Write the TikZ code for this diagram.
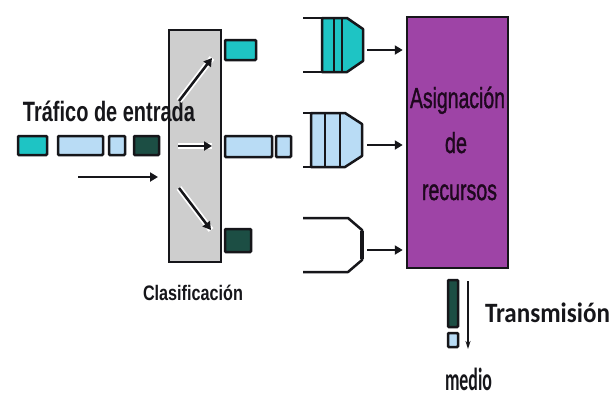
\documentclass[tikz,border=0pt]{standalone}
\usepackage{fontspec}
\setmainfont{Liberation Sans}
\newfontfamily\carl{Carlito}
\newfontfamily\ptfont[FakeBold=1.5]{Liberation Sans}
\usetikzlibrary{arrows.meta}
\definecolor{tealc}{RGB}{30,196,196}
\definecolor{lblue}{RGB}{185,220,245}
\definecolor{dteal}{RGB}{28,78,68}
\definecolor{grayc}{RGB}{206,206,206}
\definecolor{purp}{RGB}{158,68,166}
\definecolor{edge}{RGB}{22,22,26}
\definecolor{ptxt}{RGB}{30,8,30}
\begin{document}
\begin{tikzpicture}[x=1pt,y=-1pt,
  pkt/.style={draw=edge, line width=2.5pt, rounded corners=1pt, inner sep=0pt, outer sep=0pt},
  arr/.style={-{Triangle[length=8pt,width=9pt]}, line width=2.5pt, draw=edge},
  halo/.style={line width=6pt, draw=white},
  qline/.style={draw=edge, line width=2.5pt},
  lbl/.style={inner sep=0pt, outer sep=0pt},
]
\useasboundingbox (0,0) rectangle (614,410);
\fill[white] (0,0) rectangle (614,410);

% input packets
\node[pkt, fill=tealc, minimum width=29pt, minimum height=19pt] (p1) at (32.5,145.5) {};
\node[pkt, fill=lblue, minimum width=45pt, minimum height=19pt] (p2) at (80.5,145.5) {};
\node[pkt, fill=lblue, minimum width=16pt, minimum height=19pt] (p3) at (117,145.5) {};
\node[pkt, fill=dteal, minimum width=25pt, minimum height=19pt] (p4) at (146.5,145.5) {};

% input arrow
\coordinate (in1) at (78,177);
\coordinate (in2) at (158,177);
\draw[arr] (in1) -- (in2);

% classifier
\node[draw=edge, line width=2.5pt, fill=grayc, minimum width=52pt, minimum height=232pt, inner sep=0pt] (cls) at (195,146) {};

\node[lbl, anchor=base west, font=\bfseries\fontsize{28}{30}\selectfont, text=edge] (ltraf) at (23,121) {\resizebox{172pt}{\height}{Tráfico de entrada}};

\coordinate (a1s) at (179,101);
\coordinate (a1e) at (212,58);
\coordinate (a2s) at (178,146);
\coordinate (a2e) at (212,146);
\coordinate (a3s) at (179,188);
\coordinate (a3e) at (211,230);
\draw[halo] (a1s) -- (a1e);
\draw[halo] (a2s) -- (a2e);
\draw[halo] (a3s) -- (a3e);
\draw[arr] (a1s) -- (a1e);
\draw[arr] (a2s) -- (a2e);
\draw[arr] (a3s) -- (a3e);

% classified packets
\node[pkt, fill=tealc, minimum width=31pt, minimum height=20pt] (c1) at (240.5,50) {};
\node[pkt, fill=lblue, minimum width=47pt, minimum height=21pt] (c2) at (248.5,146.5) {};
\node[pkt, fill=lblue, minimum width=15pt, minimum height=21pt] (c3) at (283.5,146.5) {};
\node[pkt, fill=dteal, minimum width=26pt, minimum height=23pt] (c4) at (238,240.5) {};

\node[lbl, anchor=base west, font=\bfseries\fontsize{21}{24}\selectfont, text=edge] (lcls) at (143,300) {\resizebox{100pt}{\height}{Clasificación}};

% queues
\filldraw[fill=tealc, qline, line join=round] (322,18) -- (347,18) -- (363,29) -- (363,61) -- (347,72) -- (322,72) -- cycle;
\draw[qline] (303,18) -- (322,18);
\draw[qline] (303,72) -- (322,72);
\draw[qline] (334,18) -- (334,72);
\draw[qline] (342,18) -- (342,72);

\filldraw[fill=lblue, qline, line join=round] (311,113) -- (345,113) -- (362,124) -- (362,156) -- (345,167) -- (311,167) -- cycle;
\draw[qline] (303,113) -- (311,113);
\draw[qline] (303,167) -- (311,167);
\draw[qline] (325,113) -- (325,167);
\draw[qline] (340,113) -- (340,167);

\draw[qline, line join=round] (303,218) -- (348,218) -- (362,230) -- (362,260) -- (348,272) -- (303,272);
\draw[draw=edge, line width=4pt] (362,231) -- (362,259);

% resource allocation
\node[draw=edge, line width=2.5pt, fill=purp, minimum width=101pt, minimum height=251pt, inner sep=0pt] (asg) at (457.5,142.5) {};
\node[lbl, anchor=base, text=ptxt, font=\ptfont\fontsize{29}{30}\selectfont] (t1) at (457.5,108) {\resizebox{95pt}{\height}{Asignación}};
\node[lbl, anchor=base, text=ptxt, font=\ptfont\fontsize{29}{30}\selectfont] (t2) at (456,153) {\resizebox{22pt}{\height}{de}};
\node[lbl, anchor=base, text=ptxt, font=\ptfont\fontsize{29}{30}\selectfont] (t3) at (459.5,200) {\resizebox{75pt}{\height}{recursos}};

\coordinate (q1) at (367,50);
\coordinate (q2) at (367,145);
\coordinate (q3) at (367,250);
\draw[arr, shorten >=3pt] (q1) -- (q1 -| asg.west);
\draw[arr, shorten >=3pt] (q2) -- (q2 -| asg.west);
\draw[arr, shorten >=3pt] (q3) -- (q3 -| asg.west);

% transmission
\node[pkt, fill=dteal, minimum width=10pt, minimum height=47pt] (b1) at (453,303.5) {};
\node[pkt, fill=lblue, minimum width=10pt, minimum height=14pt] (b2) at (453,340) {};
\coordinate (tr1) at (468,281);
\coordinate (tr2) at (468,349);
\draw[draw=edge, line width=1.8pt, -{Stealth[length=8pt,width=5pt]}] (tr1) -- (tr2);

\node[lbl, anchor=base west, font=\carl\bfseries\fontsize{28}{30}\selectfont, text=edge] (ltr) at (485,322) {\resizebox{125pt}{\height}{Transmisión}};
\node[lbl, anchor=base west, font=\carl\bfseries\fontsize{32}{34}\selectfont, text=edge] (lmed) at (445,390) {\resizebox{47pt}{\height}{medio}};
\end{tikzpicture}
\end{document}
